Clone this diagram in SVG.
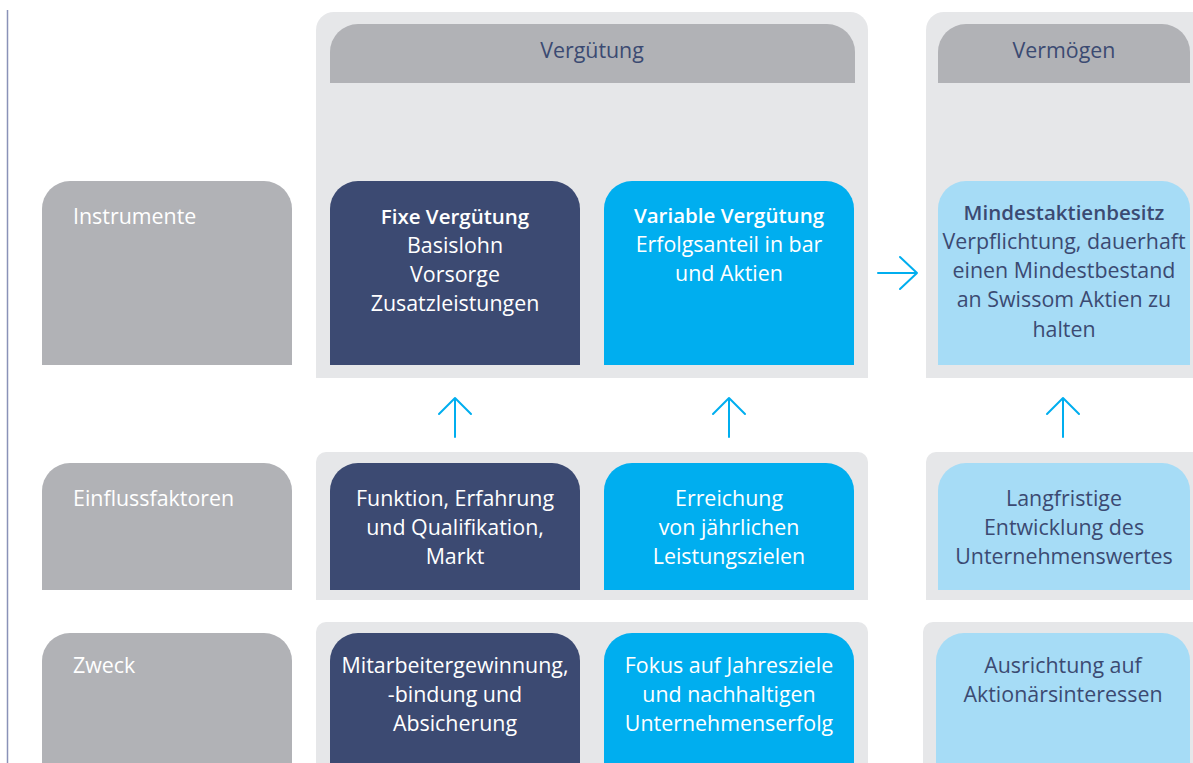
<svg xmlns="http://www.w3.org/2000/svg" width="1193" height="763" viewBox="0 0 1193 763">
<style>
.panel{fill:#e6e7e9}
.hdr{fill:#b1b2b6}
.lbl{fill:#b1b2b6}
.navy{fill:#3c4a72}
.cyan{fill:#00aeef}
.light{fill:#a6dcf6}
text{font-family:"Open Sans","Noto Sans","DejaVu Sans",sans-serif;font-size:21.4px}
.w{fill:#ffffff}
.d{fill:#3b4a72}
.c{text-anchor:middle}
.b{font-weight:600;font-size:20.5px}
.arr{stroke:#00aeef;stroke-width:2;fill:none;stroke-linecap:round;stroke-linejoin:round}
</style>
<line x1="7.5" y1="10" x2="7.5" y2="763" stroke="#8a92b8" stroke-width="1.5"/>
<g id="panel-verguetung">
<path class="panel" d="M316,378 V30 A18,18 0 0 1 334,12 H850 A18,18 0 0 1 868,30 V378 Z"/>
<path class="hdr" d="M330,83 V52 A28,28 0 0 1 358,24 H827 A28,28 0 0 1 855,52 V83 Z"/>
<text class="d c" x="592" y="58">Vergütung</text>
</g>
<g id="panel-vermoegen">
<path class="panel" d="M926,378 V30 A18,18 0 0 1 944,12 H1200 V378 Z"/>
<path class="hdr" d="M938,83 V52 A28,28 0 0 1 966,24 H1162 A28,28 0 0 1 1190,52 V83 Z"/>
<text class="d c" x="1064" y="58">Vermögen</text>
</g>
<g id="panel-row2">
<path class="panel" d="M316,600 V462 A10,10 0 0 1 326,452 H858 A10,10 0 0 1 868,462 V600 Z"/>
<path class="panel" d="M926,600 V462 A10,10 0 0 1 936,452 H1200 V600 Z"/>
</g>
<g id="panel-row3">
<path class="panel" d="M316,770 V632 A10,10 0 0 1 326,622 H858 A10,10 0 0 1 868,632 V770 Z"/>
<path class="panel" d="M923,770 V632 A10,10 0 0 1 933,622 H1200 V770 Z"/>
</g>
<g id="instrumente">
<path class="lbl" d="M42,365 V209 A28,28 0 0 1 70,181 H264 A28,28 0 0 1 292,209 V365 Z"/>
<text class="w" x="73" y="224">Instrumente</text>
</g>
<g id="fixe-verguetung">
<path class="navy" d="M330,365 V209 A28,28 0 0 1 358,181 H552 A28,28 0 0 1 580,209 V365 Z"/>
<text class="w c b" x="455" y="224">Fixe Vergütung</text>
<text class="w c" x="455" y="253">Basislohn</text>
<text class="w c" x="455" y="282">Vorsorge</text>
<text class="w c" x="455" y="311">Zusatzleistungen</text>
</g>
<g id="variable-verguetung">
<path class="cyan" d="M604,365 V209 A28,28 0 0 1 632,181 H826 A28,28 0 0 1 854,209 V365 Z"/>
<text class="w c b" x="729" y="223">Variable Vergütung</text>
<text class="w c" x="729" y="252">Erfolgsanteil in bar</text>
<text class="w c" x="729" y="281">und Aktien</text>
</g>
<g id="mindestaktienbesitz">
<path class="light" d="M938,365 V209 A28,28 0 0 1 966,181 H1162 A28,28 0 0 1 1190,209 V365 Z"/>
<text class="d c b" x="1064" y="220">Mindestaktienbesitz</text>
<text class="d c" x="1064" y="249">Verpflichtung, dauerhaft</text>
<text class="d c" x="1064" y="278">einen Mindestbestand</text>
<text class="d c" x="1064" y="307">an Swissom Aktien zu</text>
<text class="d c" x="1064" y="337">halten</text>
</g>
<g id="einflussfaktoren">
<path class="lbl" d="M42,590 V491 A28,28 0 0 1 70,463 H264 A28,28 0 0 1 292,491 V590 Z"/>
<text class="w" x="73" y="506">Einflussfaktoren</text>
</g>
<g id="funktion">
<path class="navy" d="M330,590 V491 A28,28 0 0 1 358,463 H552 A28,28 0 0 1 580,491 V590 Z"/>
<text class="w c" x="455" y="506">Funktion, Erfahrung</text>
<text class="w c" x="455" y="535">und Qualifikation,</text>
<text class="w c" x="455" y="564">Markt</text>
</g>
<g id="erreichung">
<path class="cyan" d="M604,590 V491 A28,28 0 0 1 632,463 H826 A28,28 0 0 1 854,491 V590 Z"/>
<text class="w c" x="729" y="506">Erreichung</text>
<text class="w c" x="729" y="535">von jährlichen</text>
<text class="w c" x="729" y="564">Leistungszielen</text>
</g>
<g id="langfristige">
<path class="light" d="M938,590 V491 A28,28 0 0 1 966,463 H1162 A28,28 0 0 1 1190,491 V590 Z"/>
<text class="d c" x="1064" y="506">Langfristige</text>
<text class="d c" x="1064" y="535">Entwicklung des</text>
<text class="d c" x="1064" y="564">Unternehmenswertes</text>
</g>
<g id="zweck">
<path class="lbl" d="M42,770 V661 A28,28 0 0 1 70,633 H264 A28,28 0 0 1 292,661 V770 Z"/>
<text class="w" x="73" y="673">Zweck</text>
</g>
<g id="mitarbeiter">
<path class="navy" d="M330,770 V661 A28,28 0 0 1 358,633 H552 A28,28 0 0 1 580,661 V770 Z"/>
<text class="w c" x="455" y="673">Mitarbeitergewinnung,</text>
<text class="w c" x="455" y="702">-bindung und</text>
<text class="w c" x="455" y="731">Absicherung</text>
</g>
<g id="fokus">
<path class="cyan" d="M604,770 V661 A28,28 0 0 1 632,633 H826 A28,28 0 0 1 854,661 V770 Z"/>
<text class="w c" x="729" y="673">Fokus auf Jahresziele</text>
<text class="w c" x="729" y="702">und nachhaltigen</text>
<text class="w c" x="729" y="731">Unternehmenserfolg</text>
</g>
<g id="ausrichtung">
<path class="light" d="M936,770 V661 A28,28 0 0 1 964,633 H1162 A28,28 0 0 1 1190,661 V770 Z"/>
<text class="d c" x="1063" y="673">Ausrichtung auf</text>
<text class="d c" x="1063" y="702">Aktionärsinteressen</text>
</g>
<g id="connectors">
<path class="arr" d="M878,273 H917 M900,257 L917,273 L900,289"/>
<path class="arr" d="M455,437 V398 M439,414 L455,398 L471,414"/>
<path class="arr" d="M729,437 V398 M713,414 L729,398 L745,414"/>
<path class="arr" d="M1063,437 V398 M1047,414 L1063,398 L1079,414"/>
</g>
</svg>
